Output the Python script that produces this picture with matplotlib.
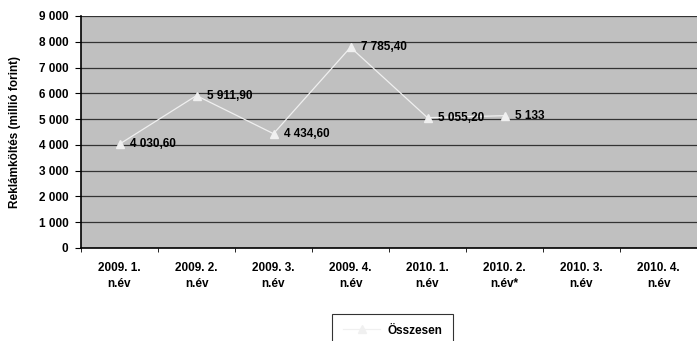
import numpy as np
import matplotlib.pyplot as plt
import matplotlib

matplotlib.rcParams['font.family'] = ['Liberation Sans', 'DejaVu Sans']
matplotlib.rcParams['font.weight'] = 'bold'

# adatok
categories = ['2009. 1.\nn.év', '2009. 2.\nn.év', '2009. 3.\nn.év', '2009. 4.\nn.év',
              '2010. 1.\nn.év', '2010. 2.\nn.év*', '2010. 3.\nn.év', '2010. 4.\nn.év']
values = [4030.6, 5911.9, 4434.6, 7785.4, 5055.2, 5133, np.nan, np.nan]
value_labels = ['4 030,60', '5 911,90', '4 434,60', '7 785,40', '5 055,20', '5 133', '', '']
y_ticks = [0, 1000, 2000, 3000, 4000, 5000, 6000, 7000, 8000, 9000]

FS = 8.5
W, H = 697, 341
fig = plt.figure(figsize=(W / 100, H / 100), dpi=100)
ax = fig.add_axes([81 / W, 1 - 248 / H, (697 - 81) / W, (248 - 16) / H])
ax.set_facecolor('#C0C0C0')

x = np.arange(len(categories))
ax.plot(x, values, color='#F0F0F0', lw=0.9, marker='^', markersize=6,
        markerfacecolor='#F0F0F0', markeredgecolor='#F0F0F0', label='Összesen', zorder=3)

for xi, v, lab in zip(x, values, value_labels):
    if lab:
        ax.text(xi + 0.14, v, lab, ha='left', va='center', fontsize=FS,
                fontweight='bold', zorder=4)

ax.set_xlim(-0.5, len(categories) - 0.5)
ax.set_ylim(0, 9000)
ax.set_yticks(y_ticks)
ax.set_yticklabels([f'{t:,}'.replace(',', ' ') for t in y_ticks], fontsize=FS, fontweight='bold')
ax.yaxis.grid(True, color='#333333', lw=0.9)
ax.set_axisbelow(True)

ax.set_xticks(x)
ax.set_xticklabels(categories, fontsize=FS, fontweight='bold', linespacing=1.45)
ax.set_xticks(np.arange(-0.5, len(categories)), minor=True)
ax.tick_params(axis='x', which='major', length=0, pad=10)
ax.tick_params(axis='x', which='minor', length=3, color='black')
ax.tick_params(axis='y', length=4, color='black', pad=5)

for s in ['top', 'right']:
    ax.spines[s].set_visible(False)
ax.spines['left'].set_color('black')
ax.spines['bottom'].set_color('black')
ax.spines['left'].set_linewidth(1.2)
ax.spines['bottom'].set_linewidth(1.2)

ax.set_ylabel('Reklámköltés (millió forint)', fontsize=FS, fontweight='bold')
ax.yaxis.set_label_coords((21 - 81) / (697 - 81), 0.5)

leg = fig.legend(loc='upper left', bbox_to_anchor=(332 / W, 1 - 314 / H), fontsize=FS,
                 frameon=True, fancybox=False, edgecolor='black', handlelength=3.2,
                 handletextpad=0.6, borderpad=0.9, borderaxespad=0)
leg.get_frame().set_linewidth(0.8)
for t in leg.get_texts():
    t.set_fontweight('bold')

fig.savefig('out.png', dpi=100)
